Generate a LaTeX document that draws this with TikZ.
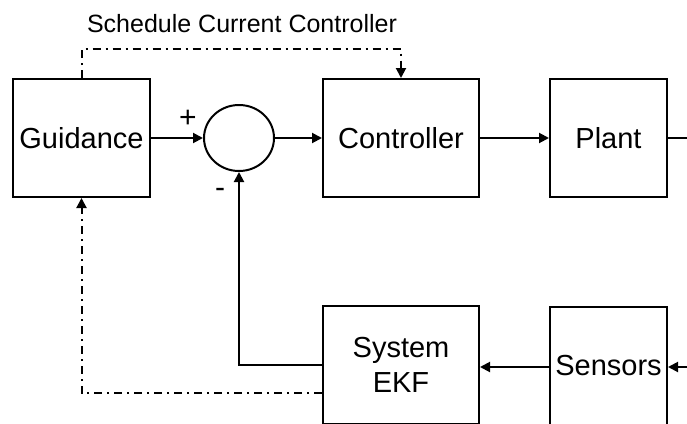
\documentclass[tikz,border=0pt]{standalone}
\usepackage{fontspec}
\setmainfont{Liberation Sans}
\usetikzlibrary{arrows.meta,shapes.geometric,calc}
\begin{document}
\begin{tikzpicture}[x=1pt,y=-1pt,
  blk/.style={draw,line width=2pt,minimum height=118pt,inner sep=0pt,font=\fontsize{29}{35}\selectfont,align=center},
  sumnode/.style={draw,line width=2pt,ellipse,minimum width=70pt,minimum height=66pt,inner sep=0pt},
  conn/.style={line width=2pt,-{Triangle[length=10pt,width=10pt]}},
  plain/.style={line width=2pt},
  dashdot/.style={line width=2pt,dash pattern=on 8pt off 5pt on 2pt off 5pt},
  lbl/.style={font=\fontsize{25}{30}\selectfont,inner sep=0pt},
  sgn/.style={font=\fontsize{30}{30}\selectfont,inner sep=0pt}]
\useasboundingbox (0,0) rectangle (687,423);
\fill[white] (0,0) rectangle (687,423);
\node[blk,minimum width=137pt] (guid) at (81.5,138) {Guidance};
\node[sumnode] (sum) at (239,138) {};
\node[blk,minimum width=156pt] (ctrl) at (401,138) {Controller};
\node[blk,minimum width=117pt] (plant) at (608.5,138) {Plant};
\node[blk,minimum width=156pt] (ekf) at (401,365) {System\\EKF};
\node[blk,minimum width=117pt] (sens) at (608.5,366) {Sensors};
\coordinate (pout) at (690,138);
\coordinate (sin) at (690,367);
\node[lbl] (sched) at (242,24) {Schedule Current Controller};
\node[sgn] (plus) at (188,119) {+};
\node[sgn] (minus) at (220,193) {-};
\draw[conn] (guid) -- (sum);
\draw[conn] (sum) -- (ctrl);
\draw[conn] (ctrl) -- (plant);
\draw[plain] (plant) -- (pout);
\draw[conn] (sin) -- (sens.east |- sin);
\draw[conn] (sens.west |- sin) -- (ekf.east |- sin);
\draw[conn] (ekf.west) -| (sum.south);
\draw[dashdot,-{Triangle[length=10pt,width=10pt]}] (guid.north) -- ++(0,-29) -| (ctrl.north);
\draw[dashdot,-{Triangle[length=10pt,width=10pt]}] ($(ekf.west)+(0,28)$) -| (guid.south);
\end{tikzpicture}
\end{document}
